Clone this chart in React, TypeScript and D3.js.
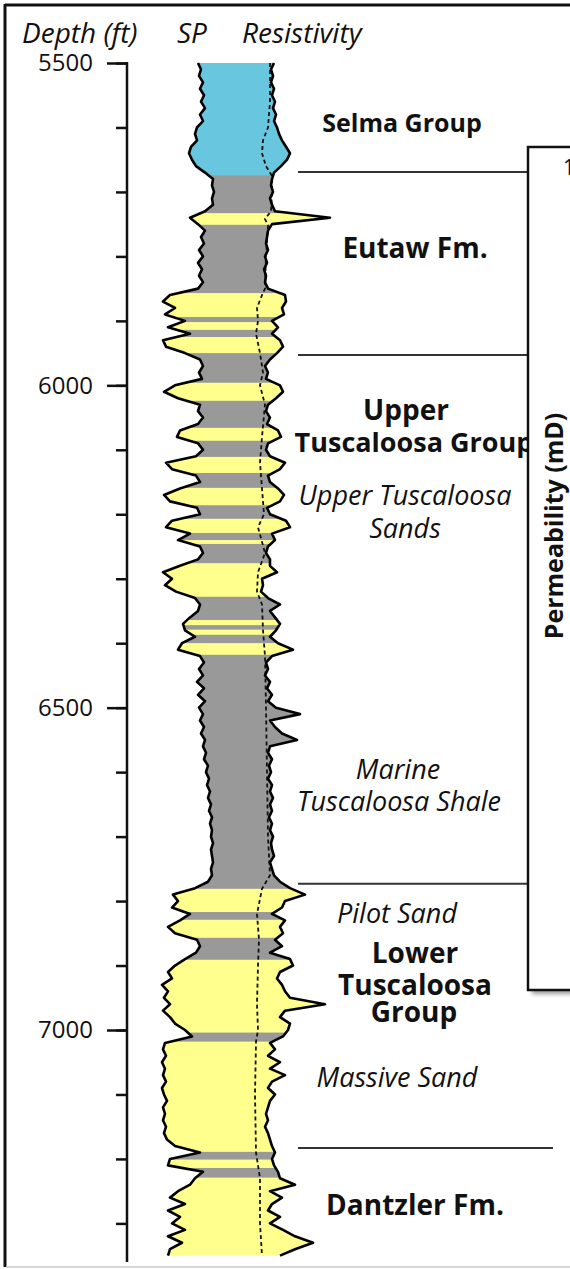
import React, { useEffect, useRef } from "react";
import * as d3 from "d3";

// log samples every 10 ft starting at 5500 ft
const depthTop = 5500;
const depthStep = 10;

// SP, mV
const spValues = [
  -22, -19, -21, -17, -20, -16, -19, -15, -20, -17,
  -23, -25, -23, -29, -31, -28, -24, -15, -7, -8,
  -6, -8, -7, -15, -30, -22, -15, -19, -16, -21,
  -17, -22, -18, -21, -17, -22, -50, -57, -45, -55,
  -35, -52, -30, -57, -54, -35, -20, -17, -21, -18,
  -45, -56, -42, -20, -22, -17, -22, -40, -43, -22,
  -17, -24, -54, -48, -24, -20, -40, -56, -50, -23,
  -20, -48, -54, -30, -42, -20, -17, -22, -40, -57,
  -48, -55, -44, -25, -20, -22, -30, -37, -35, -25,
  -38, -42, -20, -16, -21, -17, -23, -16, -22, -15,
  -21, -17, -20, -16, -19, -15, -17, -14, -16, -12,
  -14, -11, -13, -10, -12, -9, -11, -8, -10, -8,
  -9, -7, -9, -8, -7, -9, -8, -12, -25, -47,
  -42, -48, -30, -40, -52, -45, -23, -20, -24, -35,
  -45, -52, -48, -58, -52, -56, -50, -57, -50, -45,
  -35, -28, -55, -57, -54, -58, -55, -57, -54, -58,
  -56, -53, -57, -55, -57, -54, -56, -53, -45, -20,
  -50, -52, -17, -25, -30, -42, -50, -35, -52, -40,
  -48, -35, -52, -38, -50, -52,
];

// shallow resistivity, ohm-m
const resValues = [
  24, 21, 23, 21, 24, 22, 25, 23, 26, 24,
  27, 29, 32, 36, 40, 37, 31, 24, 22, 21,
  23, 20, 22, 25, 80, 22, 18, 17, 16, 18,
  15, 17, 14, 16, 15, 18, 35, 36, 32, 34,
  22, 28, 22, 30, 33, 27, 20, 15, 18, 16,
  30, 33, 26, 18, 16, 20, 17, 28, 31, 18,
  16, 20, 35, 30, 18, 20, 28, 34, 30, 17,
  20, 36, 40, 22, 25, 18, 16, 20, 20, 27,
  12, 13, 11, 18, 30, 20, 25, 30, 26, 20,
  28, 43, 22, 16, 18, 15, 20, 17, 22, 18,
  26, 50, 20, 25, 32, 47, 20, 18, 22, 19,
  21, 18, 22, 20, 23, 20, 22, 19, 22, 20,
  23, 21, 22, 24, 20, 22, 24, 30, 40, 55,
  35, 32, 22, 35, 30, 33, 25, 32, 20, 40,
  43, 30, 27, 32, 35, 40, 75, 35, 30, 40,
  38, 33, 20, 25, 18, 30, 20, 35, 22, 18,
  25, 20, 18, 16, 18, 15, 18, 20, 22, 25,
  22, 24, 28, 30, 45, 20, 32, 22, 18, 30,
  20, 33, 45, 63, 45, 30,
];

// deep resistivity (dashed), ohm-m
const deepResDepths = [
  5500, 5560, 5600, 5620, 5640, 5660, 5675, 5700, 5730, 5742, 5752, 5800,
  5850, 5860, 5880, 5900, 5920, 5950, 5980, 6000, 6030, 6080, 6120, 6160,
  6200, 6220, 6260, 6290, 6320, 6340, 6380, 6420, 6500, 6600, 6700, 6760,
  6781, 6820, 6860, 6900, 6960, 7000, 7018, 7100, 7190, 7230, 7300, 7350,
];
const deepResValues = [
  20, 20, 18, 13, 12, 16, 22, 22, 21, 15, 18, 16,
  15, 12, 7, 8, 6, 10, 13, 10, 15, 12, 10, 12,
  14, 8, 15, 8, 7, 12, 13, 15, 16, 17, 18, 20,
  12, 7, 9, 8, 7, 8, 6, 5, 6, 10, 10, 12,
];

// lithology: B = chalk/marl (blue), G = shale, Y = sand
const lithTops = [
  5500, 5674, 5733, 5751, 5857, 5894, 5902, 5914, 5925, 5950,
  5996, 6024, 6066, 6086, 6111, 6136, 6159, 6186, 6207, 6229,
  6240, 6246, 6276, 6328, 6364, 6372, 6379, 6387, 6400, 6418,
  6781, 6817, 6829, 6857, 6891, 7004, 7018, 7189, 7201, 7214,
  7229,
];
const lithCodes = [
  "B", "G", "Y", "G", "Y", "G", "Y", "G", "Y", "G",
  "Y", "G", "Y", "G", "Y", "G", "Y", "G", "Y", "G",
  "Y", "G", "Y", "G", "Y", "G", "Y", "G", "Y", "G",
  "Y", "G", "Y", "G", "Y", "G", "Y", "G", "Y", "G",
  "Y",
];
const logBase = 7352;
const lithColors: Record<string, string> = { B: "#68c6df", G: "#999999", Y: "#ffff8e" };

const formationTops = [5669, 5953, 6773, 7183];
const majorTicks = [5500, 6000, 6500, 7000];

// labels: text, baseline depth, bold?
const labelTexts = [
  "Selma Group", "Eutaw Fm.", "Upper", "Tuscaloosa Group", "Upper Tuscaloosa", "Sands",
  "Marine", "Tuscaloosa Shale", "Pilot Sand", "Lower", "Tuscaloosa", "Group",
  "Massive Sand", "Dantzler Fm.",
];
const labelDepths = [
  5607, 5802, 6054, 6103, 6186, 6237, 6611, 6660, 6834, 6896, 6945, 6987, 7088, 7287,
];
const labelBold = [
  true, true, true, true, false, false, false, false, false, true, true, true, false, true,
];

export default function App() {
  const ref = useRef<SVGSVGElement>(null);

  useEffect(() => {
    const svg = d3.select(ref.current);
    svg.selectAll("*").remove();

    const font = "'Open Sans', sans-serif";
    const y = d3.scaleLinear().domain([5500, 7000]).range([63, 1030]);
    const xSp = d3.scaleLinear().domain([-60, 10]).range([160, 230]);
    const xRes = d3.scaleLinear().domain([0, 100]).range([250, 350]);

    const rows = spValues.map((sp, i) => ({
      d: depthTop + i * depthStep,
      sp,
      res: resValues[i],
    }));

    //frame
    svg.append("line").attr("x1", 5).attr("x2", 570).attr("y1", 5).attr("y2", 5)
      .attr("stroke", "#111").attr("stroke-width", 3);
    svg.append("line").attr("x1", 5).attr("x2", 5).attr("y1", 4).attr("y2", 1267)
      .attr("stroke", "#111").attr("stroke-width", 3);
    svg.append("line").attr("x1", 6).attr("x2", 570).attr("y1", 1267).attr("y2", 1267)
      .attr("stroke", "#c8c8c8").attr("stroke-width", 1.5);

    //headers
    const head = svg.append("g").attr("font-family", font).attr("font-style", "italic")
      .attr("font-size", 28).attr("fill", "#111");
    head.append("text").attr("x", 22).attr("y", 43).text("Depth (ft)");
    head.append("text").attr("x", 177).attr("y", 43).text("SP");
    head.append("text").attr("x", 242).attr("y", 43).text("Resistivity");

    //depth axis
    const axisG = svg.append("g").attr("transform", "translate(127,0)");
    const yEnd = 7360;
    const minor = axisG.append("g").call(
      d3.axisLeft(y)
        .tickValues(d3.range(5500, yEnd, 100))
        .tickSize(11)
        .tickSizeOuter(0)
        .tickFormat(() => "")
    );
    minor.select(".domain").remove();
    const major = axisG.append("g").call(
      d3.axisLeft(y)
        .tickValues(majorTicks)
        .tickSize(20)
        .tickSizeOuter(0)
        .tickPadding(14)
        .tickFormat(d3.format("d"))
    );
    major.select(".domain").remove();
    axisG.selectAll(".tick line").attr("stroke", "#111").attr("stroke-width", 2.5);
    axisG.selectAll(".tick text").attr("font-family", font).attr("font-size", 24).attr("fill", "#111");
    axisG.append("line").attr("x1", 0).attr("x2", 0).attr("y1", y(5500) - 1).attr("y2", y(yEnd))
      .attr("stroke", "#111").attr("stroke-width", 2.5);

    //lithology fill clipped to the SP-resistivity envelope
    const area = d3.area<any>()
      .y(d => y(d.d))
      .x0(d => xSp(d.sp))
      .x1(d => xRes(d.res));
    const defs = svg.append("defs");
    defs.append("clipPath").attr("id", "logClip")
      .append("path").attr("d", area(rows));
    const fill = svg.append("g").attr("clip-path", "url(#logClip)");
    lithTops.forEach((top, i) => {
      const base = i < lithTops.length - 1 ? lithTops[i + 1] : logBase;
      fill.append("rect")
        .attr("x", 140).attr("width", 240)
        .attr("y", y(top)).attr("height", y(base) - y(top) + 0.5)
        .attr("fill", lithColors[lithCodes[i]]);
    });

    //curves
    const spLine = d3.line<any>().x(d => xSp(d.sp)).y(d => y(d.d));
    const resLine = d3.line<any>().x(d => xRes(d.res)).y(d => y(d.d));
    const deepLine = d3.line<number>().x((v) => xRes(v)).y((_, i) => y(deepResDepths[i]));
    svg.append("path").attr("d", deepLine(deepResValues)).attr("fill", "none")
      .attr("stroke", "#111").attr("stroke-width", 1.8).attr("stroke-dasharray", "4,3");
    [spLine(rows), resLine(rows)].forEach(d => {
      svg.append("path").attr("d", d).attr("fill", "none").attr("stroke", "#000")
        .attr("stroke-width", 2.6).attr("stroke-linejoin", "round");
    });

    //formation tops
    formationTops.forEach((t, i) => {
      svg.append("line")
        .attr("x1", 298).attr("x2", i === formationTops.length - 1 ? 553 : 528)
        .attr("y1", y(t)).attr("y2", y(t))
        .attr("stroke", "#333").attr("stroke-width", 2);
    });

    //labels
    const labelX = [402, 415, 406, 414, 405, 405, 398, 399, 397, 415, 415, 414, 397, 415];
    const labelSize = [25, 28, 28, 27, 27, 27, 27, 27, 27, 28, 28, 28, 27, 28];
    const lab = svg.append("g").attr("font-family", font).attr("fill", "#111")
      .attr("text-anchor", "middle");
    labelTexts.forEach((t, i) => {
      lab.append("text")
        .attr("x", labelX[i])
        .attr("y", y(labelDepths[i]))
        .attr("font-size", labelSize[i])
        .attr("font-weight", labelBold[i] ? 700 : 400)
        .attr("font-style", labelBold[i] ? "normal" : "italic")
        .text(t);
    });

    //permeability inset (cropped at the page edge)
    const blur = defs.append("filter").attr("id", "shadow");
    blur.append("feGaussianBlur").attr("stdDeviation", 2);
    svg.append("rect").attr("x", 532).attr("y", 151).attr("width", 60).attr("height", 843)
      .attr("fill", "#9a9a9a").attr("filter", "url(#shadow)");
    svg.append("rect").attr("x", 528).attr("y", 147).attr("width", 60).attr("height", 843)
      .attr("fill", "#fff").attr("stroke", "#111").attr("stroke-width", 2.5);
    svg.append("text").attr("x", 563).attr("y", 175).attr("font-family", font)
      .attr("font-size", 21).attr("fill", "#111").text("1");
    svg.append("text")
      .attr("transform", `translate(563,526) rotate(-90)`)
      .attr("text-anchor", "middle")
      .attr("font-family", font).attr("font-weight", 700).attr("font-size", 25)
      .attr("fill", "#111")
      .text("Permeability (mD)");
  }, []);

  return (
    <svg
      ref={ref}
      width={570}
      height={1269}
      style={{ position: "absolute", left: 0, top: 0, background: "#fff" }}
    />
  );
}
